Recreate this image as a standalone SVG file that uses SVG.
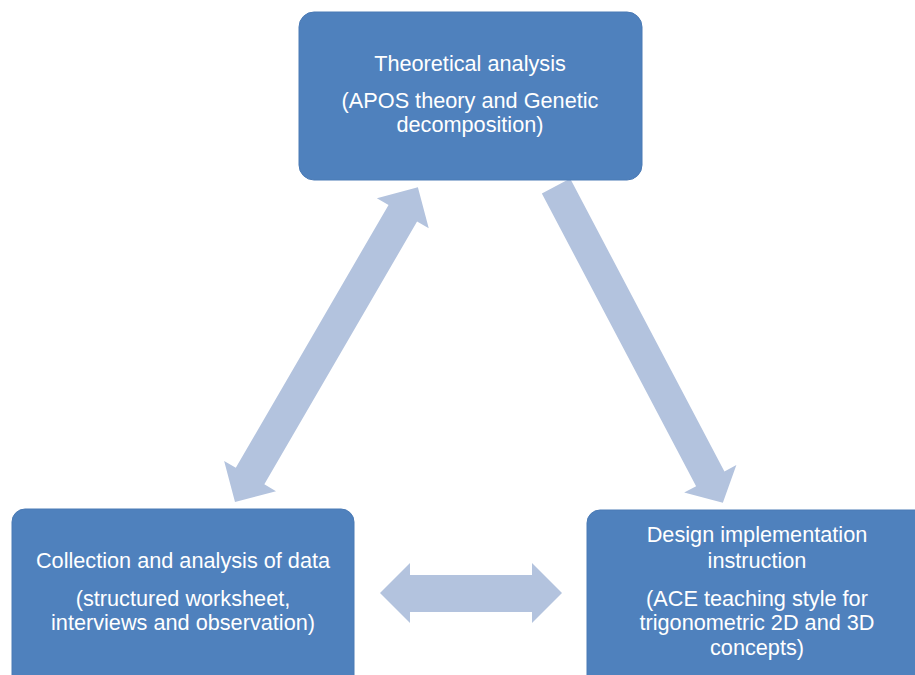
<svg xmlns="http://www.w3.org/2000/svg" width="915" height="675" viewBox="0 0 915 675">
  <style>
    .box { fill: #4f81bd; stroke: #4a7ab5; stroke-width: 1; }
    .lbl { font-family: "Liberation Sans", Arial, sans-serif; font-size: 21.7px; fill: #ffffff; text-anchor: middle; }
    .arrow { fill: #b3c3de; }
  </style>
  <rect width="915" height="675" fill="#ffffff"/>

  <!-- connectors -->
  <g id="connectors">
    <!-- two-way arrow between theory and data collection -->
    <path class="arrow" transform="translate(235,502) rotate(-59.84)" d="M0,0 L30,-30 L30,-16.5 L334,-16.5 L334,-30 L364,0 L334,30 L334,16.5 L30,16.5 L30,30 Z"/>
    <!-- one-way arrow from theory to design -->
    <path class="arrow" transform="translate(556,186) rotate(62.22)" d="M0,-16 L331,-16 L331,-29.5 L358,0 L331,29.5 L331,16 L0,16 Z"/>
    <!-- two-way arrow between data collection and design -->
    <path class="arrow" d="M380,593 L410,563 L410,575 L532,575 L532,563 L562,593 L532,623 L532,612 L410,612 L410,623 Z"/>
  </g>

  <g id="node-theory">
    <rect class="box" x="299" y="12" width="343" height="168" rx="15"/>
    <text class="lbl" x="470" y="71">Theoretical analysis</text>
    <text class="lbl" x="470" y="108">(APOS theory and Genetic</text>
    <text class="lbl" x="470" y="132">decomposition)</text>
  </g>

  <g id="node-data">
    <rect class="box" x="12" y="509" width="342" height="180" rx="13"/>
    <text class="lbl" x="183" y="568">Collection and analysis of data</text>
    <text class="lbl" x="183" y="606">(structured worksheet,</text>
    <text class="lbl" x="183" y="630">interviews and observation)</text>
  </g>

  <g id="node-design">
    <rect class="box" x="587" y="510" width="345" height="180" rx="13"/>
    <text class="lbl" x="757" y="542">Design implementation</text>
    <text class="lbl" x="757" y="568">instruction</text>
    <text class="lbl" x="757" y="606">(ACE teaching style for</text>
    <text class="lbl" x="757" y="630">trigonometric 2D and 3D</text>
    <text class="lbl" x="757" y="655">concepts)</text>
  </g>
</svg>
